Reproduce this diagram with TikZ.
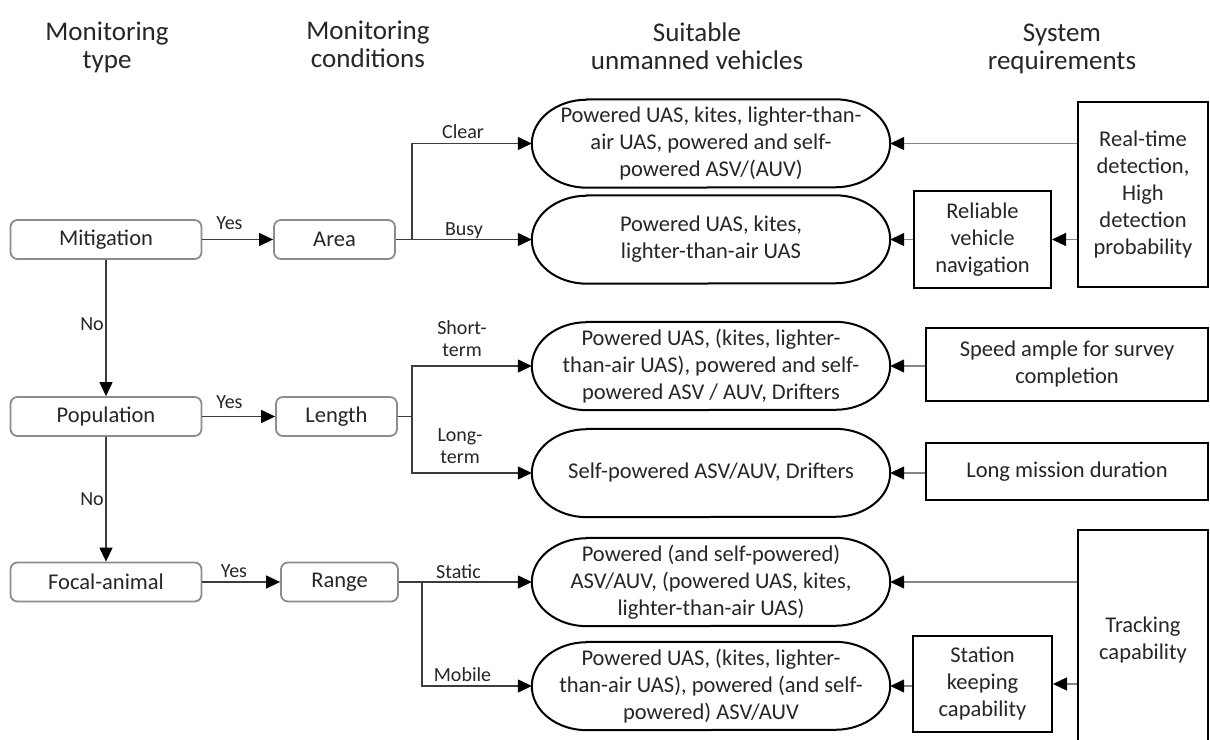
\documentclass[tikz,border=0pt]{standalone}
\usepackage{fontspec}
\setmainfont{Carlito}
\usetikzlibrary{arrows.meta,calc}
\definecolor{textc}{HTML}{262626}
\definecolor{boxgray}{HTML}{8C8C8C}
\definecolor{linegray}{HTML}{858585}
\definecolor{darkline}{HTML}{3C3C3C}
\newcommand\vstadium[1]{\draw[line width=2pt,black] ($(#1.north west)+(55,0)$) -- ($(#1.north east)+(-55,0)$) arc[start angle=90,end angle=-90,x radius=55,y radius=44] -- ($(#1.south west)+(55,0)$) arc[start angle=270,end angle=90,x radius=55,y radius=44] -- cycle;}
\begin{document}
\begin{tikzpicture}[x=1pt,y=1pt,
  txt/.style={text=textc, font=\fontsize{22.5}{27}\selectfont, align=center, inner sep=0pt},
  hdr/.style={text=textc, font=\fontsize{27}{28}\selectfont, align=center, inner sep=0pt},
  lab/.style={text=textc, font=\fontsize{20}{22}\selectfont, align=center, inner sep=0pt},
  typebox/.style={txt, draw=boxgray, line width=1.8pt, rounded corners=7pt, minimum height=39pt},
  vehicle/.style={txt, minimum width=358pt, minimum height=88pt},
  reqbox/.style={txt, draw=black, line width=2pt},
  conn/.style={draw=darkline, line width=1.3pt, -{Triangle[length=14pt,width=13pt,color=black]}},
  rconn/.style={draw=linegray, line width=1.3pt, -{Triangle[length=14pt,width=13pt,color=black]}}]
\useasboundingbox (0,0) rectangle (1210,739);
\clip (0,0) rectangle (1210,739);
\fill[white] (0,0) rectangle (1210,739);

% headers
\node[hdr] (h1) at (107,692) {Monitoring\\type};
\node[hdr] (h2) at (368,695) {Monitoring\\conditions};
\node[hdr] (h3) at (697,692.5) {Suitable\\unmanned vehicles};
\node[hdr] (h4) at (1062,690) {System\\requirements};

% monitoring type
\node[typebox, minimum width=191pt] (mit) at (106,499.5) {Mitigation};
\node[typebox, minimum width=191pt] (pop) at (106,322.5) {Population};
\node[typebox, minimum width=191pt] (foc) at (106,157) {Focal-animal};

% conditions
\node[typebox, minimum width=121pt] (area) at (334.5,499.5) {Area};
\node[typebox, minimum width=121pt] (len) at (336.5,322.5) {Length};
\node[typebox, minimum width=117pt] (rng) at (339.5,157) {Range};

% vehicles
\node[vehicle] (v1) at (711,595.5) {Powered UAS, kites, lighter-than-\\air UAS, powered and self-\\powered ASV/(AUV)};
\node[vehicle] (v2) at (711,499.5) {Powered UAS, kites,\\lighter-than-air UAS};
\node[vehicle] (v3) at (711,373) {Powered UAS, (kites, lighter-\\than-air UAS), powered and self-\\powered ASV / AUV, Drifters};
\node[vehicle] (v4) at (711,266) {Self-powered ASV/AUV, Drifters};
\node[vehicle] (v5) at (711,157) {Powered (and self-powered)\\ASV/AUV, (powered UAS, kites,\\lighter-than-air UAS)};
\node[vehicle] (v6) at (711,53) {Powered UAS, (kites, lighter-\\than-air UAS), powered (and self-\\powered) ASV/AUV};
\foreach \n in {v1,v2,v3,v4,v5,v6} {\vstadium{\n}}

% requirements
\node[reqbox, minimum width=130pt, minimum height=185pt] (rt) at (1143,544.5) {Real-time\\detection,\\High\\detection\\probability};
\node[reqbox, minimum width=137pt, minimum height=97pt] (rel) at (982.5,499.5) {Reliable\\vehicle\\navigation};
\node[reqbox, minimum width=282pt, minimum height=73pt] (spd) at (1067,374.5) {Speed ample for survey\\completion};
\node[reqbox, minimum width=282pt, minimum height=57pt] (lng) at (1067,267.5) {Long mission duration};
\node[reqbox, minimum width=130pt, minimum height=220pt] (trk) at (1143,99) {Tracking\\capability};
\node[reqbox, minimum width=139pt, minimum height=95pt] (stn) at (982.5,55) {Station\\keeping\\capability};

% left flow
\draw[conn] (mit.east) -- (area.west);
\draw[conn] (pop.east) -- (len.west);
\draw[conn] (foc.east) -- (rng.west);
\draw[conn] (mit.south) -- (pop.north);
\draw[conn] (pop.south) -- (foc.north);
\node[lab] (y1) at (229.5,516) {Yes};
\node[lab] (y2) at (229.5,337) {Yes};
\node[lab] (y3) at (234,168) {Yes};
\node[lab] (n1) at (92,415) {No};
\node[lab] (n2) at (92,240) {No};

% branches
\coordinate (b1) at (412,499.5);
\coordinate (b2) at (412,322.5);
\coordinate (b3) at (422,157);
\draw[conn] (area.east) -- (v2.west);
\draw[conn] (b1) |- (v1.west);
\draw[conn] (len.east) -- (b2) |- (v3.west);
\draw[conn] (b2) |- (v4.west);
\draw[conn] (rng.east) -- (v5.west);
\draw[conn] (b3) |- (v6.west);
\node[lab] (lc) at (463,607) {Clear};
\node[lab] (lb) at (464,508) {Busy};
\node[lab] (ls) at (462,400) {Short-\\term};
\node[lab] (ll) at (460,293) {Long-\\term};
\node[lab] (lst) at (458.5,167) {Static};
\node[lab] (lm) at (462.5,64) {Mobile};

% requirement connectors
\draw[rconn] (rt.west |- v1.east) -- (v1.east);
\draw[rconn] (rt.west |- rel.east) -- (rel.east);
\draw[rconn] (rel.west) -- (v2.east);
\draw[rconn] (spd.west |- v3.east) -- (v3.east);
\draw[rconn] (lng.west |- v4.east) -- (v4.east);
\draw[rconn] (trk.west |- v5.east) -- (v5.east);
\draw[rconn] (trk.west |- stn.east) -- (stn.east);
\draw[rconn] (stn.west |- v6.east) -- (v6.east);
\end{tikzpicture}
\end{document}
